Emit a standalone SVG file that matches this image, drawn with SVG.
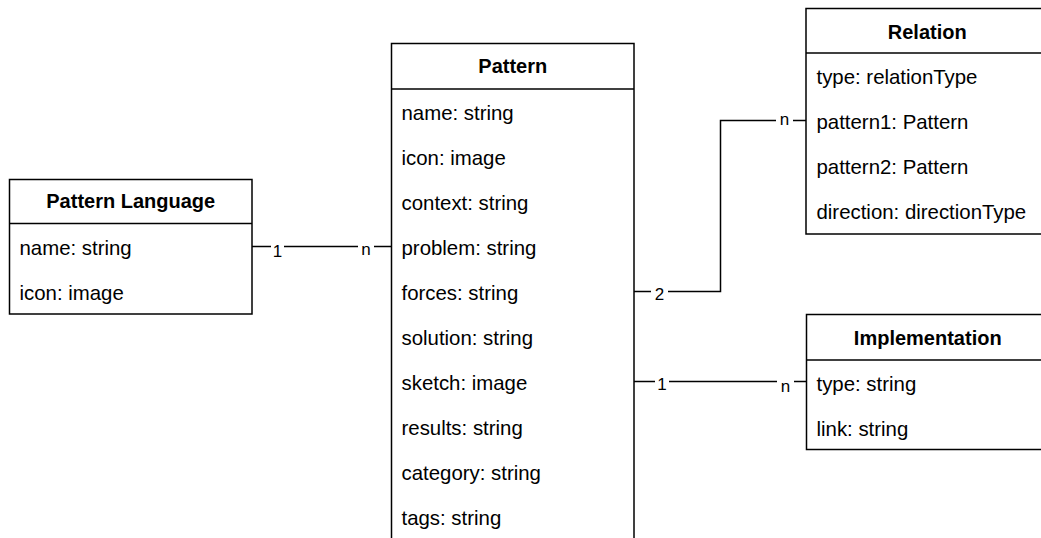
<svg xmlns="http://www.w3.org/2000/svg" width="1041" height="538" viewBox="0 0 1041 538">
<style>
.box{fill:#fff;stroke:#000;stroke-width:1.5}
.sep{stroke:#000;stroke-width:1.5}
.title{font-family:"Liberation Sans",Arial,Helvetica,sans-serif;font-size:20px;font-weight:bold;fill:#000;text-anchor:middle}
.row{font-family:"Liberation Sans",Arial,Helvetica,sans-serif;font-size:20.4px;fill:#000}
.edge{fill:none;stroke:#000;stroke-width:1.5}
.lbl{font-family:"Liberation Sans",Arial,Helvetica,sans-serif;font-size:17px;fill:#000;text-anchor:middle}
.lblbg{fill:#fff;stroke:none}
</style>
<rect width="1041" height="538" fill="#fff"/>
<g id="connectors">
  <path class="edge" d="M252 246.5 H391.5"/>
  <path class="edge" d="M634 291.5 H720.5 V120.5 H806"/>
  <path class="edge" d="M634 381.5 H806"/>
  <rect class="lblbg" x="271" y="240" width="13" height="18"/>
  <text class="lbl" x="277.5" y="257">1</text>
  <rect class="lblbg" x="358" y="240" width="16" height="18"/>
  <text class="lbl" x="366" y="255">n</text>
  <rect class="lblbg" x="651" y="285" width="17" height="18"/>
  <text class="lbl" x="659.5" y="299.5">2</text>
  <rect class="lblbg" x="776" y="113" width="17" height="16"/>
  <text class="lbl" x="784.5" y="125">n</text>
  <rect class="lblbg" x="655" y="375" width="14" height="18"/>
  <text class="lbl" x="662" y="390">1</text>
  <rect class="lblbg" x="777" y="376" width="17" height="18"/>
  <text class="lbl" x="785.5" y="392">n</text>
</g>
<g id="pattern-language">
  <rect class="box" x="9.5" y="179.5" width="242.5" height="134.5"/>
  <line class="sep" x1="9.5" y1="223.5" x2="252" y2="223.5"/>
  <text class="title" x="130.75" y="208">Pattern Language</text>
  <text class="row" x="19.5" y="254.5">name: string</text>
  <text class="row" x="19.5" y="299.5">icon: image</text>
</g>
<g id="pattern">
  <rect class="box" x="391.5" y="43.5" width="242.5" height="510"/>
  <line class="sep" x1="391.5" y1="89" x2="634" y2="89"/>
  <text class="title" x="512.75" y="73">Pattern</text>
  <text class="row" x="401.5" y="120">name: string</text>
  <text class="row" x="401.5" y="165">icon: image</text>
  <text class="row" x="401.5" y="210">context: string</text>
  <text class="row" x="401.5" y="255">problem: string</text>
  <text class="row" x="401.5" y="300">forces: string</text>
  <text class="row" x="401.5" y="345">solution: string</text>
  <text class="row" x="401.5" y="390">sketch: image</text>
  <text class="row" x="401.5" y="435">results: string</text>
  <text class="row" x="401.5" y="480">category: string</text>
  <text class="row" x="401.5" y="525">tags: string</text>
</g>
<g id="relation">
  <rect class="box" x="806" y="8.5" width="242.5" height="225.5"/>
  <line class="sep" x1="806" y1="53" x2="1048.5" y2="53"/>
  <text class="title" x="927.25" y="38.5">Relation</text>
  <text class="row" x="816.5" y="84">type: relationType</text>
  <text class="row" x="816.5" y="129">pattern1: Pattern</text>
  <text class="row" x="816.5" y="174">pattern2: Pattern</text>
  <text class="row" x="816.5" y="219">direction: directionType</text>
</g>
<g id="implementation">
  <rect class="box" x="806.5" y="314.5" width="242.5" height="135"/>
  <line class="sep" x1="806.5" y1="360" x2="1049" y2="360"/>
  <text class="title" x="927.75" y="344.5">Implementation</text>
  <text class="row" x="816.5" y="390.5">type: string</text>
  <text class="row" x="816.5" y="436">link: string</text>
</g>
</svg>
